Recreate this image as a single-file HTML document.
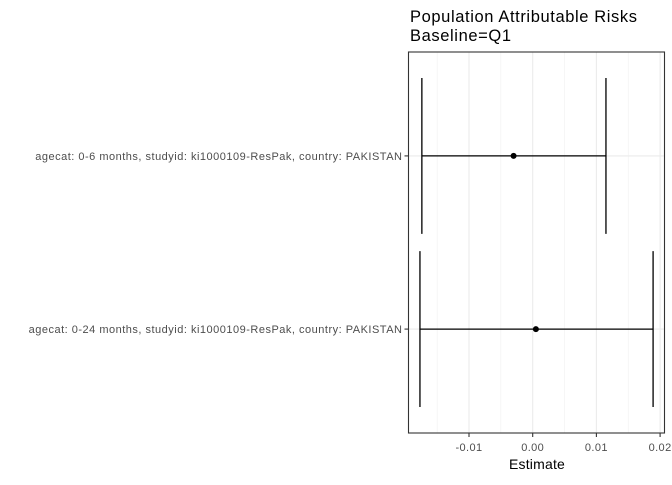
<!DOCTYPE html>
<html><head><meta charset="utf-8"><style>
body{margin:0;background:#fff;}
text{font-family:"Liberation Sans",Arial,sans-serif;}
</style></head><body>
<svg id="chart" width="672" height="480" xmlns="http://www.w3.org/2000/svg">
<text x="410" y="22" font-size="16.5" fill="#000" textLength="227" lengthAdjust="spacing">Population Attributable Risks</text>
<text x="410" y="41" font-size="16.5" fill="#000" textLength="101" lengthAdjust="spacing">Baseline=Q1</text>
<g id="grid"></g>
<g id="marks"></g>
<rect x="408.5" y="52" width="256" height="381" fill="none" stroke="#333" stroke-width="1.1"/>
<g id="axes"></g>
<text x="537" y="469" font-size="14" text-anchor="middle" fill="#000" letter-spacing="0.2">Estimate</text>
</svg>
<script>
const categories = ["agecat: 0-6 months, studyid: ki1000109-ResPak, country: PAKISTAN","agecat: 0-24 months, studyid: ki1000109-ResPak, country: PAKISTAN"];
const estimates = [-0.0030, 0.0005];
const lowers = [-0.0174, -0.0177];
const uppers = [0.0115, 0.0189];
const xTicks = [-0.01, 0.00, 0.01, 0.02];
const xTickLabels = ["-0.01","0.00","0.01","0.02"];
const minorTicks = [-0.015,-0.005,0.005,0.015];
const NS="http://www.w3.org/2000/svg";
const X0=408.5,X1=664.5,Y0=52,Y1=433;
const x=v=>532.7+v*6370;
const n=categories.length;
const y=i=>{const u=(Y1-Y0)/(n-1+1.2);return Y0+0.6*u+i*u;};
const band=(Y1-Y0)/(n-1+1.2);
function mk(tag,attrs,parent){const e=document.createElementNS(NS,tag);for(const k in attrs)e.setAttribute(k,attrs[k]);document.getElementById(parent).appendChild(e);return e;}
minorTicks.forEach(v=>{const e=mk('line',{x1:x(v),x2:x(v),y1:Y0,y2:Y1,stroke:'#f0f0f0','stroke-width':0.6},'grid');

});
xTicks.forEach((v,i)=>{const e=mk('line',{x1:x(v),x2:x(v),y1:Y0,y2:Y1,stroke:'#ebebeb','stroke-width':1.1},'grid');


const t=mk('line',{x1:x(v),x2:x(v),y1:Y1,y2:Y1+4,stroke:'#333','stroke-width':1.1},'axes');


const l=mk('text',{x:x(v),y:Y1+18,'font-size':11,'text-anchor':'middle',fill:'#4d4d4d','letter-spacing':0.4},'axes');l.textContent=xTickLabels[i];

});
categories.forEach((c,i)=>{const yy=y(i);
const g=mk('line',{x1:X0,x2:X1,y1:yy,y2:yy,stroke:'#ebebeb','stroke-width':1.1},'grid');


const t=mk('line',{x1:X0-4,x2:X0,y1:yy,y2:yy,stroke:'#333','stroke-width':1.1},'axes');


const l=mk('text',{x:X0-6,y:yy+4,'font-size':11,'text-anchor':'end',fill:'#4d4d4d','letter-spacing':0.5},'axes');l.textContent=c;


const h=band*0.45;
const eb=mk('path',{d:`M${x(lowers[i])},${yy-h}V${yy+h}M${x(lowers[i])},${yy}H${x(uppers[i])}M${x(uppers[i])},${yy-h}V${yy+h}`,stroke:'#000','stroke-width':1.3,fill:'none'},'marks');


const p=mk('circle',{cx:x(estimates[i]),cy:yy,r:3,fill:'#000'},'marks');

});
</script>
</body></html>
